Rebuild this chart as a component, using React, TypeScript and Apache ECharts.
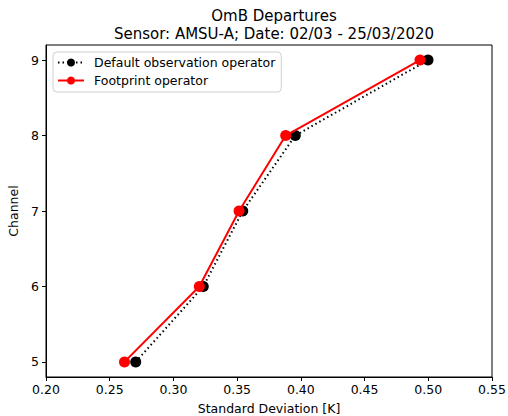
import React, { useEffect, useRef } from "react";
import * as echarts from "echarts";

const channels = [5, 6, 7, 8, 9];
const defaultOperator = [0.2704, 0.3234, 0.3544, 0.3956, 0.4998];
const footprintOperator = [0.2616, 0.3203, 0.3515, 0.3881, 0.4935];
const xTicks = [0.2, 0.25, 0.3, 0.35, 0.4, 0.45, 0.5, 0.55];
const yTicks = [5, 6, 7, 8, 9];
const seriesNames = ["Default observation operator", "Footprint operator"];

const FONT = "DejaVu Sans";

export default function App() {
  const ref = useRef<HTMLDivElement>(null);
  useEffect(() => {
    if (!ref.current) return;
    const chart = echarts.init(ref.current, null, { renderer: "svg" });
    chart.setOption({
      animation: false,
      backgroundColor: "#fff",
      textStyle: { fontFamily: FONT },
      title: [
        {
          text: "OmB Departures",
          left: 269,
          top: 3,
          textAlign: "center",
          textStyle: { fontFamily: FONT, fontSize: 15, fontWeight: "normal", color: "#000" },
        },
        {
          text: "Sensor: AMSU-A; Date: 02/03 - 25/03/2020",
          left: 269,
          top: 21,
          textAlign: "center",
          textStyle: { fontFamily: FONT, fontSize: 15, fontWeight: "normal", color: "#000" },
        },
      ],
      legend: {
        orient: "vertical",
        left: 53,
        top: 52,
        itemWidth: 26,
        itemHeight: 10,
        itemGap: 5,
        padding: [4, 6, 5, 4],
        borderColor: "#d0d0d0",
        borderWidth: 1,
        borderRadius: 4,
        backgroundColor: "rgba(255,255,255,0.8)",
        textStyle: { fontFamily: FONT, fontSize: 12.5, color: "#000", padding: [0, 0, 0, 5] },
        data: seriesNames,
      },
      grid: {
        left: 46,
        right: 16,
        top: 45,
        bottom: 39,
        containLabel: false,
        outerBoundsMode: "none",
        show: true,
        borderColor: "#000",
        borderWidth: 1,
        backgroundColor: "transparent",
      },
      xAxis: {
        type: "value",
        min: 0.2,
        max: 0.55,
        name: "Standard Deviation [K]",
        nameLocation: "middle",
        nameGap: 25,
        nameTextStyle: { fontFamily: FONT, fontSize: 12.5, color: "#000" },
        axisLine: { show: true, onZero: false, lineStyle: { color: "#000", width: 1 } },
        axisTick: { show: true, inside: false, length: 4, lineStyle: { color: "#000" }, customValues: xTicks },
        axisLabel: {
          color: "#000",
          fontSize: 12.5,
          fontFamily: FONT,
          margin: 6,
          customValues: xTicks,
          formatter: (v: number) => v.toFixed(2),
        },
        splitLine: { show: false },
      },
      yAxis: {
        type: "value",
        min: 4.8,
        max: 9.2,
        name: "Channel",
        nameLocation: "middle",
        nameGap: 19,
        nameTextStyle: { fontFamily: FONT, fontSize: 12.5, color: "#000" },
        axisLine: { show: true, onZero: false, lineStyle: { color: "#000", width: 1 } },
        axisTick: { show: true, inside: false, length: 4, lineStyle: { color: "#000" }, customValues: yTicks },
        axisLabel: {
          color: "#000",
          fontSize: 12.5,
          fontFamily: FONT,
          margin: 7,
          customValues: yTicks,
          formatter: (v: number) => String(Math.round(v)),
        },
        splitLine: { show: false },
      },
      series: [
        {
          name: seriesNames[0],
          type: "line",
          data: channels.map((c, i) => [defaultOperator[i], c]),
          symbol: "circle",
          symbolSize: 11,
          itemStyle: { color: "#000" },
          lineStyle: { color: "#000", width: 2, type: [1.5, 3] },
          z: 2,
        },
        {
          name: seriesNames[1],
          type: "line",
          data: channels.map((c, i) => [footprintOperator[i], c]),
          symbol: "circle",
          symbolSize: 11,
          itemStyle: { color: "#ff0000" },
          lineStyle: { color: "#ff0000", width: 2 },
          z: 3,
        },
      ],
    });
    return () => chart.dispose();
  }, []);
  return (
    <div
      ref={ref}
      style={{ position: "fixed", left: 0, top: 0, width: 508, height: 416 }}
    />
  );
}
